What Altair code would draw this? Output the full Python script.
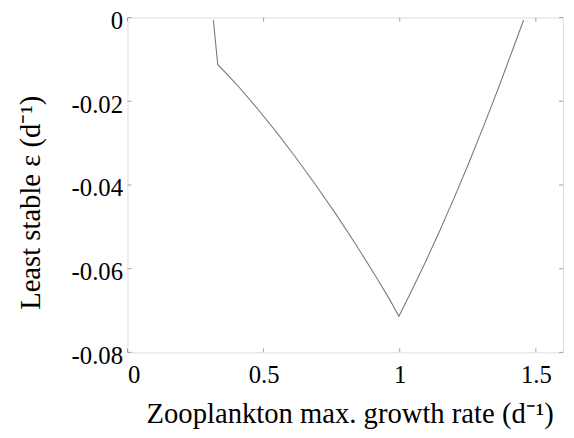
import altair as alt
import pandas as pd

# Curve
growth = [0.3154, 0.3315, 0.4014, 0.4739, 0.5464, 0.6189, 0.6914, 0.7639, 0.8365,
          0.9090, 0.9634, 0.9971, 1.0359, 1.0903, 1.1447, 1.1991, 1.2535, 1.3079,
          1.3623, 1.4166, 1.4554]
eps = [-0.0006, -0.0112, -0.0160, -0.0215, -0.0273, -0.0335, -0.0400, -0.0468, -0.0540,
       -0.0615, -0.0674, -0.0714, -0.0663, -0.0590, -0.0513, -0.0432, -0.0348, -0.0260,
       -0.0169, -0.0074, -0.0006]

x_ticks = [0, 0.5, 1, 1.5]
y_ticks = [-0.08, -0.06, -0.04, -0.02, 0]

W, H = 441, 339
FONT = "Liberation Serif"
FRAME = "#a0a0a0"
TL = 4

df = pd.DataFrame({"g": growth, "e": eps, "o": list(range(len(growth)))})
xt = pd.DataFrame({"x": x_ticks})
yt = pd.DataFrame({"y": y_ticks})

xscale = alt.Scale(domain=[0, 1.6], nice=False, zero=False)
yscale = alt.Scale(domain=[-0.08, 0], nice=False, zero=False)

line = alt.Chart(df).mark_line(color="#7a7a7a", strokeWidth=1.1, clip=True).encode(
    x=alt.X("g:Q", scale=xscale, axis=alt.Axis(
        values=x_ticks, tickSize=0, domain=False, grid=False,
        labelExpr="toString(datum.value)",
        labelFont=FONT, labelFontSize=25, labelColor="black", labelPadding=11,
        title="Zooplankton max. growth rate (d⁻¹)",
        titleFont=FONT, titleFontSize=29, titleFontWeight="normal", titleColor="black",
        titleX=225, titleY=71, titleBaseline="alphabetic", titleAnchor="middle")),
    y=alt.Y("e:Q", scale=yscale, axis=alt.Axis(
        values=y_ticks, tickSize=0, domain=False, grid=False,
        labelExpr="datum.value == 0 ? '0' : toString(datum.value)",
        labelFont=FONT, labelFontSize=25, labelColor="black", labelPadding=5,
        labelOffset=3,
        title="Least stable ε (d⁻¹)",
        titleFont=FONT, titleFontSize=29, titleFontWeight="normal", titleColor="black",
        titleX=-89, titleY=187, titleBaseline="alphabetic", titleAnchor="middle")),
    order="o:O",
)

bottom_ticks = alt.Chart(xt).mark_rule(color=FRAME).encode(
    x=alt.X("x:Q", scale=xscale), y=alt.value(H), y2=alt.value(H - TL))
top_ticks = alt.Chart(xt).mark_rule(color=FRAME).encode(
    x=alt.X("x:Q", scale=xscale), y=alt.value(0), y2=alt.value(TL))
left_ticks = alt.Chart(yt).mark_rule(color=FRAME).encode(
    y=alt.Y("y:Q", scale=yscale), x=alt.value(0), x2=alt.value(TL))
right_ticks = alt.Chart(yt).mark_rule(color=FRAME).encode(
    y=alt.Y("y:Q", scale=yscale), x=alt.value(W), x2=alt.value(W - TL))

chart = alt.layer(bottom_ticks, top_ticks, left_ticks, right_ticks, line).properties(
    width=W, height=H,
    autosize=alt.AutoSizeParams(type="none"),
    padding={"left": 121, "top": 7, "right": 3, "bottom": 80},
).configure_view(stroke=FRAME, strokeWidth=1.2).configure(background="white")

chart.save("out.html", embed_options={"renderer": "svg", "actions": False})
